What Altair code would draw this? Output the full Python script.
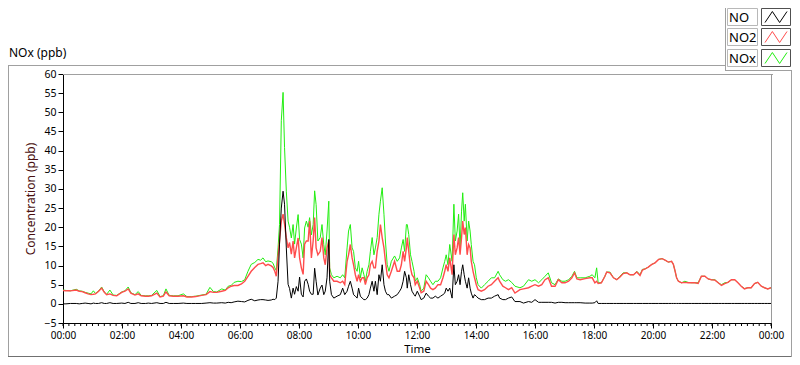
import altair as alt
import pandas as pd

# ---------------- data ----------------
hours = (
    [0.00,0.10,0.25,0.45,0.55,0.65,0.75,0.85,0.95,1.03, 1.10,1.20,1.31,1.40,1.48,1.59,1.70,1.82,1.99,2.10,
     2.21,2.30,2.44,2.55,2.65,2.80,2.89,3.00,3.18,3.29, 3.40,3.49,3.60,3.74,3.90,4.08,4.20,4.36,4.50,4.70,
     4.85,4.98,5.10,5.21,5.38,5.50,5.60,5.70,5.80,5.93]
    + [6.05,6.16,6.27,6.38,6.50,6.61,6.70,6.78,6.87,6.95, 7.06,7.12,7.18,7.23,7.29,7.34,7.40,7.46,7.51,7.57,
       7.63,7.68,7.74,7.80,7.85,7.91,7.97,8.02,8.08,8.14, 8.19,8.25,8.31,8.36,8.42,8.48]
    + [8.53,8.58,8.64,8.72,8.78,8.84,8.89,8.95,9.01,9.04, 9.10,9.18,9.29,9.40,9.48,9.55,9.63,9.68,9.74,9.80,
       9.85,9.91,9.97,10.02,10.08,10.14,10.20,10.25,10.31,10.37, 10.42,10.48,10.54,10.59,10.65,10.71,10.76,10.82,10.88,10.93,
       10.99,11.05]
    + [11.13,11.24,11.33,11.41,11.47,11.53,11.58,11.64,11.67,11.72, 11.78,11.83,11.90,11.94,12.01,12.09,12.14,12.23,12.31,12.39,
       12.46,12.54,12.62,12.71,12.80,12.88,12.94,12.99]
    + [13.05,13.11,13.19,13.25,13.30,13.36,13.41,13.46,13.51,13.55, 13.60,13.64,13.70,13.75,13.80,13.84,13.90,13.95,14.01,14.07,
       14.18,14.29,14.41,14.52,14.63,14.75,14.80,14.91]
    + [15.00,15.10,15.21,15.32,15.49,15.61,15.78,15.89,16.00,16.12, 16.23,16.34,16.45,16.56,16.68,16.79,16.91,17.02,17.14,17.25,
       17.34,17.42,17.53,17.70,17.86,17.94,18.03,18.09,18.14,18.25, 18.37,18.43,18.54,18.66,18.77,18.88,18.99,19.11,19.22,19.34,
       19.45,19.56,19.64,19.73,19.84,19.96,20.07,20.19,20.31,20.41, 20.52,20.63,20.69,20.75,20.80,20.86,20.97,21.08,21.19,21.31,
       21.42,21.53,21.64,21.76,21.87,21.98,22.10,22.21,22.32,22.43, 22.54,22.66,22.77,22.88,22.99,23.10,23.21,23.33,23.44,23.55,
       23.67,23.78,23.89,24.00]
)

no_ppb = (
    [0.0,0.0,0.1,0.1,0.0,0.1,0.2,0.1,0.0,0.2, 0.1,0.1,0.3,0.1,0.1,0.3,0.1,0.1,0.2,0.1,
     0.4,0.1,0.1,0.3,0.1,0.1,0.2,0.1,0.3,0.1, 0.1,0.4,0.1,0.1,0.1,0.2,0.1,0.1,0.1,0.1,
     0.2,0.3,0.2,0.2,0.3,0.2,0.4,0.3,0.5,0.7]
    + [0.6,0.5,0.9,1.2,0.8,1.0,1.1,1.1,1.0,0.9, 1.0,1.2,1.1,1.5,5.9,15.6,25.0,29.4,26.0,14.6,
       5.1,4.0,1.5,4.1,2.5,4.5,3.3,7.0,2.5,1.8, 5.9,6.5,5.1,3.3,2.5,2.5]
    + [9.3,5.9,2.3,4.1,4.9,2.4,3.3,6.8,16.8,5.9, 2.4,1.5,2.0,2.4,4.1,2.4,3.3,4.6,5.9,4.1,
       2.4,2.0,1.5,4.1,2.0,1.5,1.1,1.1,1.5,2.4, 4.1,5.9,3.3,5.9,2.4,7.6,5.9,10.2,5.0,3.3,
       2.4,2.4]
    + [1.5,2.0,2.4,3.3,4.1,5.9,8.5,6.8,4.1,7.6, 5.0,3.3,2.4,2.0,3.3,2.0,1.1,1.5,2.8,2.0,
       1.5,1.5,2.0,1.5,2.0,2.4,2.8,4.1]
    + [3.3,4.1,1.5,10.2,5.0,5.9,7.6,5.0,8.5,10.2, 7.6,5.9,4.1,6.8,4.1,2.8,1.5,2.4,2.0,1.5,
       1.1,1.1,1.5,1.5,2.0,2.4,1.5,1.1]
    + [1.1,1.5,1.8,0.6,0.6,0.2,0.6,0.4,1.1,0.4, 0.4,0.4,0.4,0.4,0.2,0.4,0.4,0.3,0.3,0.3,
       0.3,0.3,0.3,0.2,0.2,0.2,0.3,0.8,0.1,0.1, 0.1,0.1,0.1,0.1,0.1,0.1,0.1,0.1,0.1,0.1,
       0.1,0.1,0.1,0.1,0.1,0.1,0.1,0.1,0.1,0.1, 0.1,0.1,0.1,0.1,0.1,0.1,0.1,0.1,0.1,0.1,
       0.1,0.1,0.1,0.1,0.1,0.1,0.1,0.1,0.1,0.1, 0.1,0.1,0.1,0.1,0.1,0.1,0.1,0.1,0.1,0.1,
       0.1,0.1,0.1,0.1]
)

no2_ppb = (
    [3.5,3.4,3.4,3.6,3.3,3.2,2.9,2.6,2.4,2.5, 2.6,3.2,4.1,3.0,2.4,2.6,2.2,2.1,3.0,3.3,
     3.9,2.8,2.3,2.6,2.1,2.0,2.0,2.1,2.8,1.8, 2.0,3.1,2.1,2.0,2.0,2.1,1.8,1.8,1.9,2.2,
     2.4,3.2,3.0,3.0,3.3,3.5,4.2,4.6,4.8,4.8]
    + [5.2,5.9,7.2,8.5,9.5,10.3,10.5,10.7,10.0,10.3, 9.9,9.5,8.5,7.2,12.4,16.4,21.6,23.4,20.8,17.2,
       14.6,16.0,13.0,16.4,12.0,14.6,17.2,12.0,9.4,7.7, 15.6,16.4,16.4,21.6,12.0,16.4]
    + [22.5,14.6,12.8,13.7,17.3,12.0,10.2,14.6,16.4,7.6, 6.8,5.9,5.9,5.5,5.9,5.0,11.1,12.8,15.5,12.0,
       10.2,7.6,5.9,7.6,5.9,6.8,6.8,5.0,6.8,7.6, 10.2,11.1,9.4,9.4,13.7,16.4,20.7,17.3,14.6,11.1,
       7.6,6.8]
    + [8.5,11.1,8.5,8.5,10.2,13.7,11.1,14.6,17.3,13.7, 9.4,7.6,6.8,5.0,5.9,4.1,2.9,3.3,5.9,5.0,
       4.1,3.7,4.1,5.0,5.0,6.8,8.5,10.2]
    + [8.5,12.0,7.6,18.1,12.8,14.6,17.3,12.8,17.3,21.6, 18.1,19.9,12.8,15.5,14.6,11.1,8.5,6.8,5.0,3.7,
       3.3,3.7,4.6,5.0,5.9,6.8,5.9,4.6]
    + [4.2,3.7,4.2,2.8,3.7,3.9,4.2,4.6,5.0,4.6, 5.0,6.3,6.8,4.6,4.6,6.3,5.5,5.5,5.9,6.8,
       8.1,6.5,6.3,6.6,6.8,6.8,5.5,5.9,5.3,5.5, 7.2,8.3,8.1,6.8,6.3,7.0,7.9,8.1,7.6,7.6,
       8.3,7.4,8.8,9.1,9.6,10.3,10.7,11.6,11.8,11.4, 10.9,11.1,10.3,8.5,6.8,5.9,5.5,5.6,5.5,5.5,
       5.5,5.3,7.2,7.2,6.5,6.3,6.2,5.5,4.8,5.3, 5.6,6.3,6.3,5.5,4.6,3.9,4.2,4.2,5.3,5.6,
       4.6,4.2,3.9,4.2]
)

nox_ppb = (
    [3.6,3.5,3.4,3.8,3.4,3.3,3.0,2.8,2.6,3.4, 2.7,3.3,4.4,3.1,2.5,3.6,2.3,2.2,3.1,3.4,
     4.4,2.9,2.4,3.2,2.2,2.1,2.1,2.2,3.5,1.9, 2.1,3.9,2.2,2.1,2.1,2.6,1.9,1.9,2.0,2.3,
     2.5,4.3,3.2,3.1,3.9,3.6,4.6,4.8,5.6,5.9]
    + [5.8,6.3,8.5,10.3,10.8,11.6,11.4,12.0,11.0,11.2, 11.0,10.6,9.4,8.7,14.6,20.7,47.8,55.2,40.8,29.4,
       21.6,20.0,17.2,20.7,15.6,19.8,23.3,16.8,15.6,12.0, 19.8,21.6,20.0,22.5,18.0,20.7]
    + [29.5,25.9,16.4,17.3,20.7,15.5,12.8,19.0,26.8,9.4, 7.6,6.8,7.2,6.8,7.6,6.8,14.6,19.0,20.7,14.6,
       13.7,9.4,8.5,11.1,6.8,9.4,7.6,5.9,8.5,10.2, 13.7,17.3,12.8,14.6,17.3,23.4,26.8,30.3,23.4,16.4,
       10.2,8.5]
    + [11.1,12.5,11.1,12.0,14.6,16.8,13.7,20.7,20.7,18.1, 12.8,11.1,8.5,5.9,6.8,5.0,3.3,4.1,7.6,6.8,
       5.9,5.0,5.9,5.9,6.8,9.4,11.1,12.8]
    + [10.2,15.5,11.1,26.0,16.4,19.0,23.4,14.6,24.2,29.0, 21.6,26.0,16.4,21.6,19.0,15.5,11.1,10.2,6.8,5.0,
       4.1,5.0,5.9,6.8,6.8,8.5,7.6,6.3]
    + [5.9,6.3,5.6,4.6,4.2,4.6,6.3,5.9,6.3,5.5, 6.3,7.2,8.1,5.5,5.0,6.5,5.9,5.9,6.3,7.2,
       8.5,6.8,6.8,6.8,7.2,7.6,6.8,9.4,5.5,5.5, 7.2,8.3,8.3,6.8,6.3,7.2,8.1,8.1,7.6,7.6,
       8.5,7.6,9.0,9.1,9.6,10.3,10.7,11.6,11.8,11.4, 10.9,11.1,10.3,8.5,6.8,5.9,5.5,5.9,5.6,5.5,
       5.5,5.5,7.2,7.2,6.5,6.3,6.3,5.5,5.0,5.5, 5.6,6.3,6.3,5.5,4.6,4.0,4.2,4.2,5.3,5.6,
       4.6,4.2,3.9,4.2]
)

assert len(hours) == len(no_ppb) == len(no2_ppb) == len(nox_ppb)

series_names = ["NO", "NO2", "NOx"]
series_colors = ["#000000", "#ff4c4c", "#22ee11"]
x_tick_hours = list(range(0, 25, 2))
x_minor_hours = [round(i * 0.2, 1) for i in range(0, 121)]
y_ticks = list(range(-5, 61, 5))

df = pd.DataFrame({"h": hours, "NO": no_ppb, "NO2": no2_ppb, "NOx": nox_ppb})

W, H = 708, 249
FONT = "Noto Sans"

xscale = alt.Scale(domain=[0, 24], nice=False, zero=False)
yscale = alt.Scale(domain=[-5, 60], nice=False, zero=False)

xaxis = alt.Axis(values=x_tick_hours,
                 labelExpr="(datum.value % 24 < 10 ? '0' : '') + (datum.value % 24) + ':00'",
                 title="Time", grid=False, tickSize=5, labelPadding=2, titlePadding=3,
                 labelFontSize=10, titleFontSize=11.5, titleFontWeight="normal",
                 labelColor="#000", titleColor="#000", domainColor="#000", tickColor="#000",
                 labelFlush=False)
yaxis = alt.Axis(values=y_ticks, title="Concentration (ppb)", grid=False, tickSize=5,
                 labelPadding=2, titlePadding=6, labelFontSize=10.5, titleFontSize=12,
                 titleFontWeight="normal", labelColor="#000", titleColor="#4a1010",
                 domainColor="#000", tickColor="#000")

base = alt.Chart(df)
lines = []
for name, color, sw in [("NOx", series_colors[2], 1.0), ("NO2", series_colors[1], 1.4), ("NO", series_colors[0], 1.0)]:
    lines.append(
        base.mark_line(color=color, strokeWidth=sw, clip=True).encode(
            x=alt.X("h:Q", scale=xscale, axis=xaxis),
            y=alt.Y(f"{name}:Q", scale=yscale, axis=yaxis),
        )
    )

minor = alt.Chart(pd.DataFrame({"m": x_minor_hours})).mark_rule(color="#000", strokeWidth=1).encode(
    x=alt.X("m:Q", scale=xscale, axis=xaxis), y=alt.value(H), y2=alt.value(H + 3)
)

deco_df = pd.DataFrame({"a": [0]})
def rule(x, y, x2=None, y2=None, color="#a0a0a0"):
    enc = {"x": alt.value(x), "y": alt.value(y)}
    if x2 is not None:
        enc["x2"] = alt.value(x2)
    if y2 is not None:
        enc["y2"] = alt.value(y2)
    return alt.Chart(deco_df).mark_rule(color=color, strokeWidth=1).encode(**enc)

decos = [
    rule(0, 0.5, x2=W + 2),                     # plot top border
    rule(W + 0.5, 0, y2=H, color="#9a9a9a"),    # plot right border
    rule(-55, -8.5, x2=662),                     # frame top
    rule(-54.5, -9, y2=283),                     # frame left
    rule(-55, 282.5, x2=729, color="#707070"),   # frame bottom
    rule(728.5, -4, y2=283),                     # frame right
    rule(662.5, -66, y2=-3.5),                   # legend panel left
    rule(662, -3.5, x2=729),                     # legend panel bottom
]

title = alt.Chart(deco_df).mark_text(text="NOx (ppb)", align="left", baseline="alphabetic",
                                     fontSize=12, font=FONT, color="#000").encode(
    x=alt.value(-54), y=alt.value(-17))

legend_layers = []
rows = [(-66, -49), (-46, -29), (-25, -8)]
zig = "M-1,0.5L-0.33,-0.5L0.33,0.5L1,-0.5"
for (y0, y1), name, color in zip(rows, series_names, series_colors):
    legend_layers.append(alt.Chart(deco_df).mark_rect(fill="#ffffff", stroke="#b8b8b8", strokeWidth=1).encode(
        x=alt.value(664.5), x2=alt.value(694.5), y=alt.value(y0 + 0.5), y2=alt.value(y1 + 0.5)))
    legend_layers.append(alt.Chart(deco_df).mark_rect(fill="#ffffff", stroke="#505050", strokeWidth=1).encode(
        x=alt.value(698.5), x2=alt.value(727.5), y=alt.value(y0 + 0.5), y2=alt.value(y1 + 0.5)))
    legend_layers.append(alt.Chart(deco_df).mark_text(text=name, align="left", baseline="middle",
                                                      fontSize=13, font=FONT, color="#000").encode(
        x=alt.value(666), y=alt.value((y0 + y1) / 2 + 1)))
    legend_layers.append(alt.Chart(deco_df).mark_point(shape=zig, filled=False, size=484, strokeWidth=1,
                                                       color=color, opacity=1).encode(
        x=alt.value(713), y=alt.value((y0 + y1) / 2 + 0.5)))

chart = alt.layer(*lines, minor, *decos, title, *legend_layers).properties(
    width=W, height=H,
    autosize=alt.AutoSizeParams(type="none"),
    padding={"left": 55, "top": 66, "right": 21, "bottom": 34},
).configure_view(stroke=None).configure(font=FONT, background="#ffffff")

chart.save("out.html", embed_options={"renderer": "svg", "actions": False})
